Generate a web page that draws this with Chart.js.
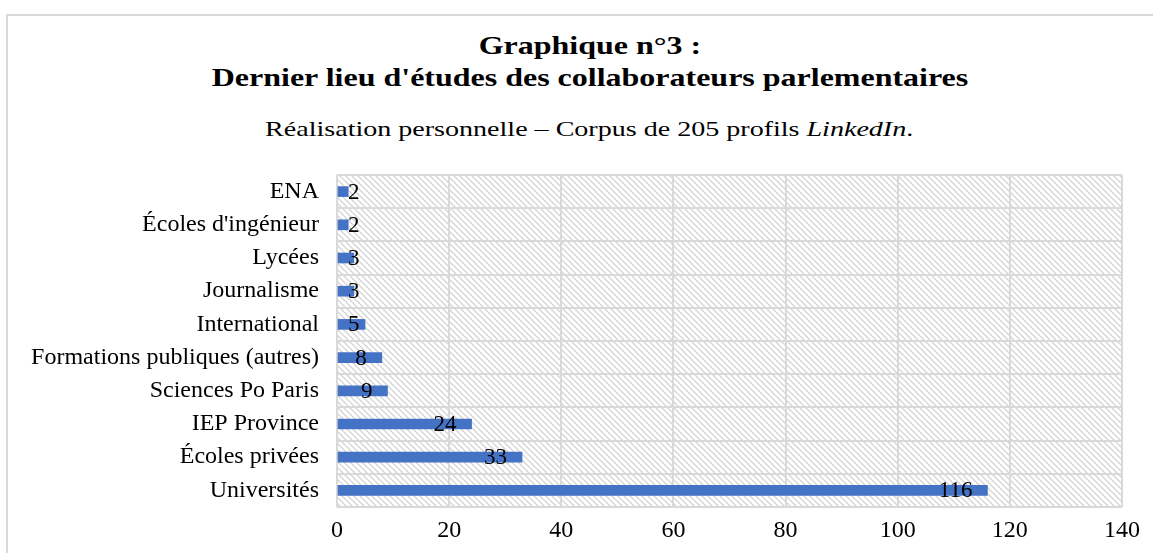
<!DOCTYPE html>
<html>
<head>
<meta charset="utf-8">
<script src="https://cdn.jsdelivr.net/npm/chart.js@4"></script>
<style>
  body { margin: 0; background: #fff; font-family: "Liberation Serif", "Times New Roman", serif; }
  #cadre { position: absolute; left: 6px; top: 14px; width: 1200px; height: 600px; border: 2px solid #d9d9d9; box-sizing: border-box; }
  #titre { position: absolute; left: 0; top: 30px; width: 1180px; text-align: center; font-weight: bold; font-size: 26px; line-height: 32px; color: #000; transform: scaleX(1.23); transform-origin: 590px 0; }
  #soustitre { position: absolute; left: 0; top: 116px; width: 1180px; text-align: center; font-size: 22px; color: #000; transform: scaleX(1.275); transform-origin: 593px 0; }
  #zone { position: absolute; left: 0; top: 160px; width: 1153px; height: 393px; }
</style>
</head>
<body>
<div id="cadre"></div>
<div id="titre">Graphique n°3 :<br>Dernier lieu d'études des collaborateurs parlementaires</div>
<div id="soustitre">Réalisation personnelle – Corpus de 205 profils <i>LinkedIn</i>.</div>
<div id="zone"><canvas id="graphique"></canvas></div>
<script>
const categories = ['ENA', "Écoles d'ingénieur", 'Lycées', 'Journalisme', 'International',
  'Formations publiques (autres)', 'Sciences Po Paris', 'IEP Province', 'Écoles privées', 'Universités'];
const effectifs = [2, 2, 3, 3, 5, 8, 9, 24, 33, 116];
const ticksX = [0, 20, 40, 60, 80, 100, 120, 140];

// motif hachuré du fond
const motif = (function () {
  const c = document.createElement('canvas');
  c.width = 6; c.height = 6;
  const g = c.getContext('2d');
  g.fillStyle = '#fff';
  g.fillRect(0, 0, 6, 6);
  g.strokeStyle = '#d4d4d4';
  g.lineWidth = 1.3;
  g.beginPath();
  g.moveTo(-2, -2); g.lineTo(8, 8);
  g.moveTo(-2, 4); g.lineTo(2, 8);
  g.moveTo(4, -2); g.lineTo(8, 2);
  g.stroke();
  return g.createPattern(c, 'repeat');
})();

const fondHachure = {
  id: 'fondHachure',
  beforeDraw(chart) {
    const { ctx, chartArea: a } = chart;
    ctx.save();
    ctx.fillStyle = motif;
    ctx.fillRect(a.left, a.top, a.right - a.left, a.bottom - a.top);
    ctx.restore();
  }
};

const etiquettes = {
  id: 'etiquettes',
  afterDatasetsDraw(chart) {
    const ctx = chart.ctx;
    const meta = chart.getDatasetMeta(0);
    ctx.save();
    ctx.font = '23px "Liberation Serif", serif';
    ctx.fillStyle = '#000';
    ctx.textBaseline = 'middle';
    meta.data.forEach((bar, i) => {
      const txt = String(effectifs[i]);
      const w = ctx.measureText(txt).width;
      let x = bar.x - 15 - w;
      if (x < bar.base + 10) x = bar.base + 10;
      ctx.fillText(txt, x, bar.y + 1);
    });
    ctx.restore();
  }
};

const ctxGraphique = document.getElementById('graphique').getContext('2d');
new Chart(ctxGraphique, {
  type: 'bar',
  data: {
    labels: categories,
    datasets: [{
      data: effectifs,
      backgroundColor: '#4472C4',
      barThickness: 10
    }]
  },
  options: {
    indexAxis: 'y',
    responsive: true,
    maintainAspectRatio: false,
    animation: false,
    layout: { padding: { top: 15, right: 31, left: 0, bottom: 0 } },
    plugins: {
      legend: { display: false },
      tooltip: { enabled: false }
    },
    scales: {
      x: {
        min: 0,
        max: 140,
        afterBuildTicks: scale => { scale.ticks = ticksX.map(v => ({ value: v })); },
        afterFit: scale => { scale.height = 46; scale.paddingLeft = 0; scale.paddingRight = 0; },
        grid: { color: '#d9d9d9', lineWidth: 2, drawTicks: false },
        border: { display: false },
        ticks: { color: '#000', padding: 9, font: { family: 'Liberation Serif', size: 24 } }
      },
      y: {
        afterFit: scale => { scale.width = 337; scale.paddingTop = 0; scale.paddingBottom = 0; },
        grid: { color: '#d9d9d9', lineWidth: 2, drawTicks: false },
        border: { display: false },
        ticks: { color: '#000', padding: 18, font: { family: 'Liberation Serif', size: 24 } }
      }
    }
  },
  plugins: [fondHachure, etiquettes]
});
</script>
</body>
</html>
